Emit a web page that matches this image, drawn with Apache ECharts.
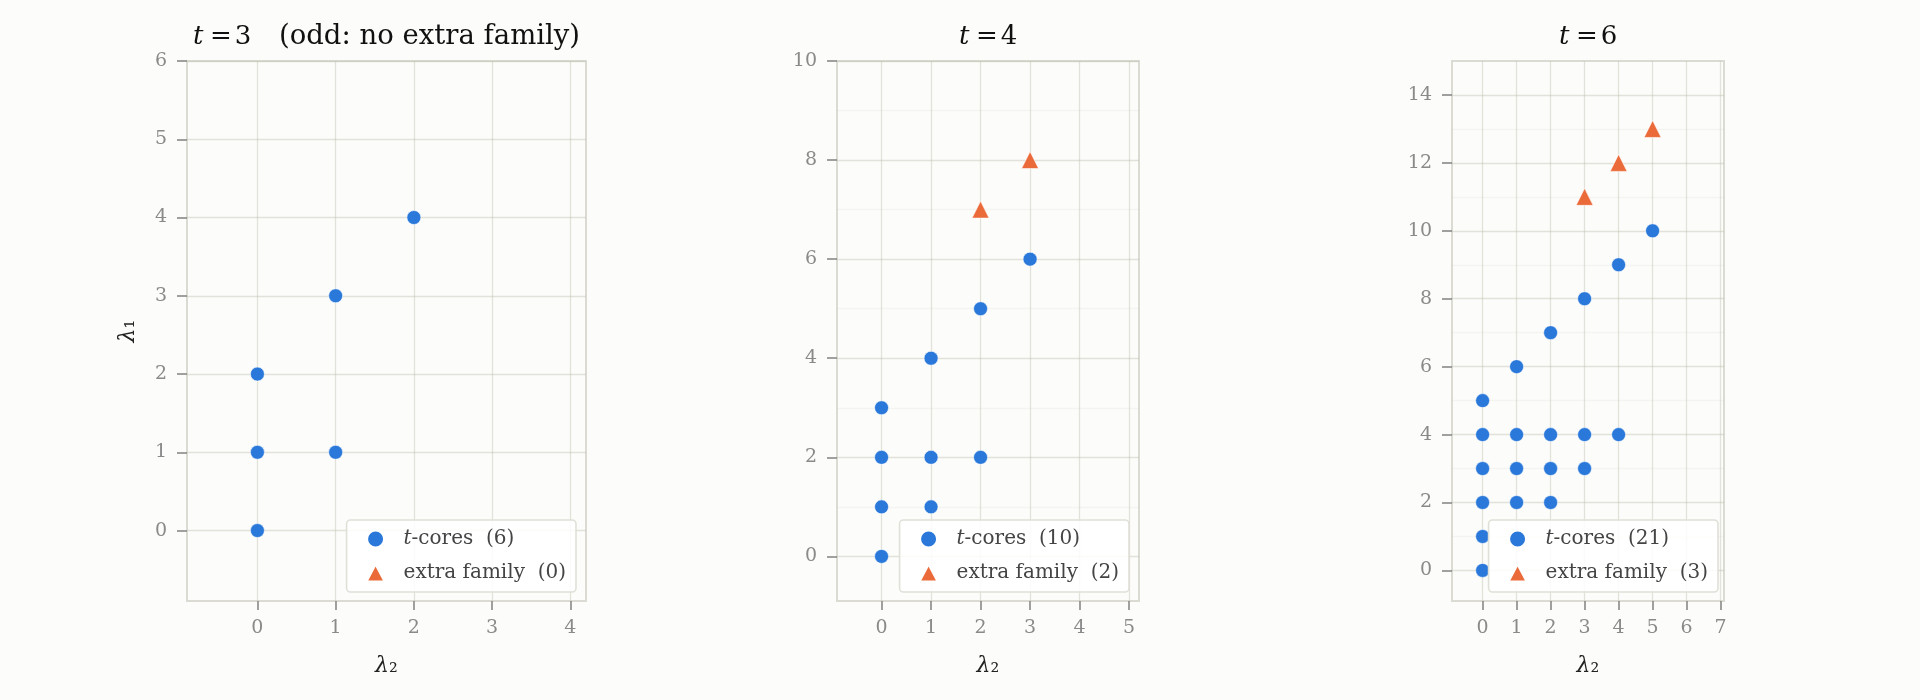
<!DOCTYPE html>
<html>
<head>
<meta charset="utf-8">
<script src="https://cdn.jsdelivr.net/npm/echarts@6/dist/echarts.min.js"></script>
<style>
html,body{margin:0;padding:0;background:#fcfcfa;}
#chart{width:1920px;height:700px;}
</style>
</head>
<body>
<div id="chart"></div>
<script>
// ---------- DATA ----------
const panelT = [3, 4, 6];
const titleSuffix = ['(odd: no extra family)', '', ''];
const xTicks = [[0,1,2,3,4],[0,1,2,3,4,5],[0,1,2,3,4,5,6,7]];
const yTicks = [[0,1,2,3,4,5,6],[0,2,4,6,8,10],[0,2,4,6,8,10,12,14]];
const yMinorTicks = [[], [1,3,5,7,9], [1,3,5,7,9,11,13]];
const axisMin = -0.9;
const xMax = [4.2, 5.2, 7.1];
const yMax = [6, 10, 15];
// points are [lambda2, lambda1]
const cores3 = [[0,0],[0,1],[0,2],[1,1],[1,3],[2,4]];
const extra3 = [];
const cores4 = [[0,0],[0,1],[0,2],[0,3],[1,1],[1,2],[1,4],[2,2],[2,5],[3,6]];
const extra4 = [[2,7],[3,8]];
const cores6 = [[0,0],[0,1],[0,2],[0,3],[0,4],[0,5],
                [1,1],[1,2],[1,3],[1,4],[1,6],
                [2,2],[2,3],[2,4],[2,7],
                [3,3],[3,4],[3,8],
                [4,4],[4,9],
                [5,10]];
const extra6 = [[3,11],[4,12],[5,13]];
const coresData = [cores3, cores4, cores6];
const extraData = [extra3, extra4, extra6];

// ---------- STYLE / LAYOUT ----------
const FONT = 'DejaVu Serif';
const BLUE = '#2a78d9';
const ORANGE = '#eb6a3a';
const GRID_COLOR = 'rgba(190,190,175,0.42)';
const MINOR_COLOR = 'rgba(190,190,175,0.12)';
const grids = [
  {left:187, top:61, width:399, height:540},
  {left:837, top:61, width:302, height:540},
  {left:1452, top:61, width:272, height:540}
];
const legendRight = [1344, 791, 202];

const option = {
  backgroundColor: '#fcfcfa',
  animation: false,
  grid: [], xAxis: [], yAxis: [], series: [], legend: [], graphic: []
};

const italicRich = (size, color) => ({ i: { fontStyle: 'italic', fontFamily: FONT, fontSize: size, color: color } });
const legendTextBase = { fontFamily: FONT, fontSize: 20, color: '#444', lineHeight: 20 };

for (let p = 0; p < 3; p++) {
  const g = grids[p];
  option.grid.push({
    left: g.left, top: g.top, width: g.width, height: g.height,
    show: true, borderColor: '#dcdbd3', borderWidth: 2, backgroundColor: 'transparent'
  });
  option.xAxis.push({
    type: 'value', gridIndex: p, min: axisMin, max: xMax[p],
    name: '{i|λ}₂', nameLocation: 'middle', nameGap: 54,
    nameTextStyle: { fontFamily: FONT, fontSize: 22, color: '#222', rich: italicRich(22, '#222') },
    axisLine: { show: false, onZero: false },
    axisTick: { show: true, customValues: xTicks[p], length: 9, lineStyle: { color: '#888', width: 1.6 } },
    axisLabel: { customValues: xTicks[p], margin: 18, fontFamily: FONT, fontSize: 19, color: '#8a8a8a' },
    splitLine: { show: true, lineStyle: { color: GRID_COLOR, width: 1.3 } }
  });
  const mainY = option.yAxis.length;
  option.yAxis.push({
    type: 'value', gridIndex: p, min: axisMin, max: yMax[p],
    name: p === 0 ? '{i|λ}₁' : '', nameLocation: 'middle', nameGap: 48,
    nameTextStyle: { fontFamily: FONT, fontSize: 22, color: '#222', rich: italicRich(22, '#222') },
    axisLine: { show: false, onZero: false },
    axisTick: { show: true, customValues: yTicks[p], length: 10, lineStyle: { color: '#888', width: 1.6 } },
    axisLabel: { customValues: yTicks[p], margin: 20, fontFamily: FONT, fontSize: 19, color: '#8a8a8a' },
    splitLine: { show: true, lineStyle: { color: GRID_COLOR, width: 1.3 } }
  });
  if (yMinorTicks[p].length) {
    option.yAxis.push({
      type: 'value', gridIndex: p, min: axisMin, max: yMax[p], position: 'left',
      axisLine: { show: false, onZero: false },
      axisTick: { show: false, customValues: yMinorTicks[p] },
      axisLabel: { show: false, customValues: yMinorTicks[p] },
      splitLine: { show: true, lineStyle: { color: MINOR_COLOR, width: 1.3 } }
    });
  }
  const coresName = 't-cores  (' + coresData[p].length + ')';
  const extraName = 'extra family  (' + extraData[p].length + ')';
  option.series.push({
    type: 'scatter', name: coresName, xAxisIndex: p, yAxisIndex: mainY,
    data: coresData[p], symbol: 'circle', symbolSize: 14,
    itemStyle: { color: BLUE, opacity: 1, borderColor: '#ffffff', borderWidth: 0.6 }, z: 3
  });
  option.series.push({
    type: 'scatter', name: extraName, xAxisIndex: p, yAxisIndex: mainY,
    data: extraData[p], symbol: 'triangle', symbolSize: 17,
    itemStyle: { color: ORANGE, opacity: 1, borderColor: '#ffffff', borderWidth: 0.6 }, z: 3
  });
  option.legend.push({
    orient: 'vertical', right: legendRight[p], bottom: 108,
    data: [{ name: coresName, icon: 'circle' }, { name: extraName, icon: 'triangle' }],
    itemWidth: 18, itemHeight: 17, itemGap: 14,
    padding: [9, 10, 9, 19],
    backgroundColor: 'rgba(255,255,255,0.85)', borderColor: '#e0dfd8', borderWidth: 1.6, borderRadius: 4,
    selectedMode: false,
    formatter: name => '{g|}' + (name.startsWith('t-') ? '{i|t}' + name.slice(1) : name),
    textStyle: Object.assign({}, legendTextBase, {
      rich: { g: { width: 14 }, i: Object.assign({ fontStyle: 'italic' }, legendTextBase) }
    }),
    z: 10
  });
  const titleRich = {
    i: { fontStyle: 'italic', fontFamily: FONT, fontSize: 26, fill: '#111', width: 14, align: 'left' },
    eq: { fontFamily: FONT, fontSize: 26, fill: '#111', width: 28, align: 'center' },
    n: { fontFamily: FONT, fontSize: 26, fill: '#111', width: 16, align: 'center' },
    sp: { width: 28 },
    r: { fontFamily: FONT, fontSize: 27.5, fill: '#111' }
  };
  const ttl = '{i|t}{eq|=}{n|' + panelT[p] + '}' + (titleSuffix[p] ? '{sp|}{r|' + titleSuffix[p] + '}' : '');
  option.graphic.push({
    type: 'text', x: g.left + g.width / 2, y: 37, z: 10,
    style: {
      text: ttl,
      align: 'center', verticalAlign: 'middle',
      fontFamily: FONT, fontSize: 26, fill: '#111',
      rich: titleRich
    }
  });
}

const chart = echarts.init(document.getElementById('chart'));
chart.setOption(option);
</script>
</body>
</html>
